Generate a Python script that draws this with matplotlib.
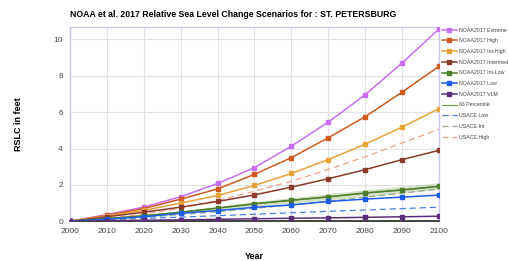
import numpy as np
import matplotlib.pyplot as plt

plt.rcParams['font.family'] = ['Liberation Sans', 'DejaVu Sans']

years = [2000, 2010, 2020, 2030, 2040, 2050, 2060, 2070, 2080, 2090, 2100]

extreme = [0, 0.37, 0.78, 1.35, 2.08, 2.95, 4.13, 5.45, 6.96, 8.70, 10.57]
high = [0, 0.33, 0.70, 1.22, 1.78, 2.58, 3.50, 4.59, 5.75, 7.10, 8.52]
int_high = [0, 0.30, 0.60, 1.00, 1.42, 1.97, 2.63, 3.39, 4.24, 5.18, 6.19]
intermed = [0, 0.25, 0.50, 0.78, 1.09, 1.45, 1.88, 2.34, 2.84, 3.39, 3.90]
int_low = [0, 0.15, 0.30, 0.50, 0.73, 0.97, 1.16, 1.34, 1.56, 1.72, 1.92]
low = [0, 0.12, 0.25, 0.44, 0.59, 0.77, 0.90, 1.09, 1.22, 1.33, 1.44]
vlm = [0, 0.03, 0.06, 0.08, 0.11, 0.14, 0.17, 0.19, 0.22, 0.25, 0.28]

p66 = [0, 0.15, 0.31, 0.50, 0.72, 0.95, 1.15, 1.35, 1.55, 1.73, 1.93]
p66_lo = [0, 0.12, 0.25, 0.42, 0.62, 0.82, 1.00, 1.18, 1.36, 1.55, 1.75]
p66_hi = [0, 0.18, 0.37, 0.58, 0.82, 1.08, 1.30, 1.52, 1.74, 1.93, 2.12]

usace_low = [0, 0.08, 0.16, 0.23, 0.31, 0.39, 0.47, 0.55, 0.62, 0.70, 0.78]
usace_int = [0, 0.10, 0.22, 0.37, 0.53, 0.71, 0.90, 1.10, 1.32, 1.55, 1.78]
usace_high = [0, 0.15, 0.40, 0.72, 1.15, 1.65, 2.20, 2.85, 3.55, 4.30, 5.07]

fig = plt.figure(figsize=(5.10, 2.61), dpi=100)
ax = fig.add_axes([0.137, 0.152, 0.724, 0.745])

ax.fill_between(years, p66_lo, p66_hi, color='#b9cca3', alpha=0.6, lw=0)

noaa = [
    (extreme, '#c86ef0', 'NOAA2017 Extreme'),
    (high, '#cf5a1f', 'NOAA2017 High'),
    (int_high, '#e8a23a', 'NOAA2017 Int-High'),
    (intermed, '#8a3b2b', 'NOAA2017 Intermed'),
    (int_low, '#4e7d29', 'NOAA2017 Int-Low'),
    (low, '#1d5ce6', 'NOAA2017 Low'),
    (vlm, '#5a2e78', 'NOAA2017 VLM'),
]
for vals, c, lab in noaa:
    ax.plot(years, vals, color=c, lw=1.1, marker='s', ms=3.2, label=lab, zorder=3)

ax.plot(years, p66, color='#7aa35a', lw=0.9, label='66 Percentile', zorder=2)
ax.plot(years, usace_low, color='#4a7fe0', lw=0.9, ls=(0, (5, 3)), label='USACE Low')
ax.plot(years, usace_int, color='#97a98a', lw=0.9, ls=(0, (5, 3)), label='USACE Int')
ax.plot(years, usace_high, color='#e9a48a', lw=0.9, ls=(0, (5, 3)), label='USACE High')

ax.set_xlim(2000, 2100)
ax.set_ylim(0, 10.68)
ax.set_xticks(years)
ax.set_yticks([0, 2, 4, 6, 8, 10])
ax.grid(True, color='#e2e2e2', lw=0.8)
ax.set_axisbelow(True)
ax.tick_params(length=0, labelsize=6, colors='#444444', pad=5)
for s in ['top', 'left', 'right']:
    ax.spines[s].set_color('#c8c8f0')
    ax.spines[s].set_linewidth(1.0)
ax.spines['bottom'].set_color('#222222')
ax.spines['bottom'].set_linewidth(1.2)

ax.set_ylabel('RSLC in feet', fontsize=6.5, fontweight='bold', labelpad=22)
ax.set_xlabel('Year', fontsize=6.5, fontweight='bold', labelpad=12)
fig.text(0.137, 0.945, 'NOAA et al. 2017 Relative Sea Level Change Scenarios for : ST. PETERSBURG',
         fontsize=6.3, fontweight='bold', ha='left', va='center')

ax.legend(loc='upper left', bbox_to_anchor=(1.0, 1.01), frameon=False, fontsize=3.8,
          handlelength=2.8, labelspacing=1.08, borderaxespad=0.2, handletextpad=0.4,
          labelcolor='#444444', borderpad=0.3)

fig.savefig('out.png', dpi=100)
